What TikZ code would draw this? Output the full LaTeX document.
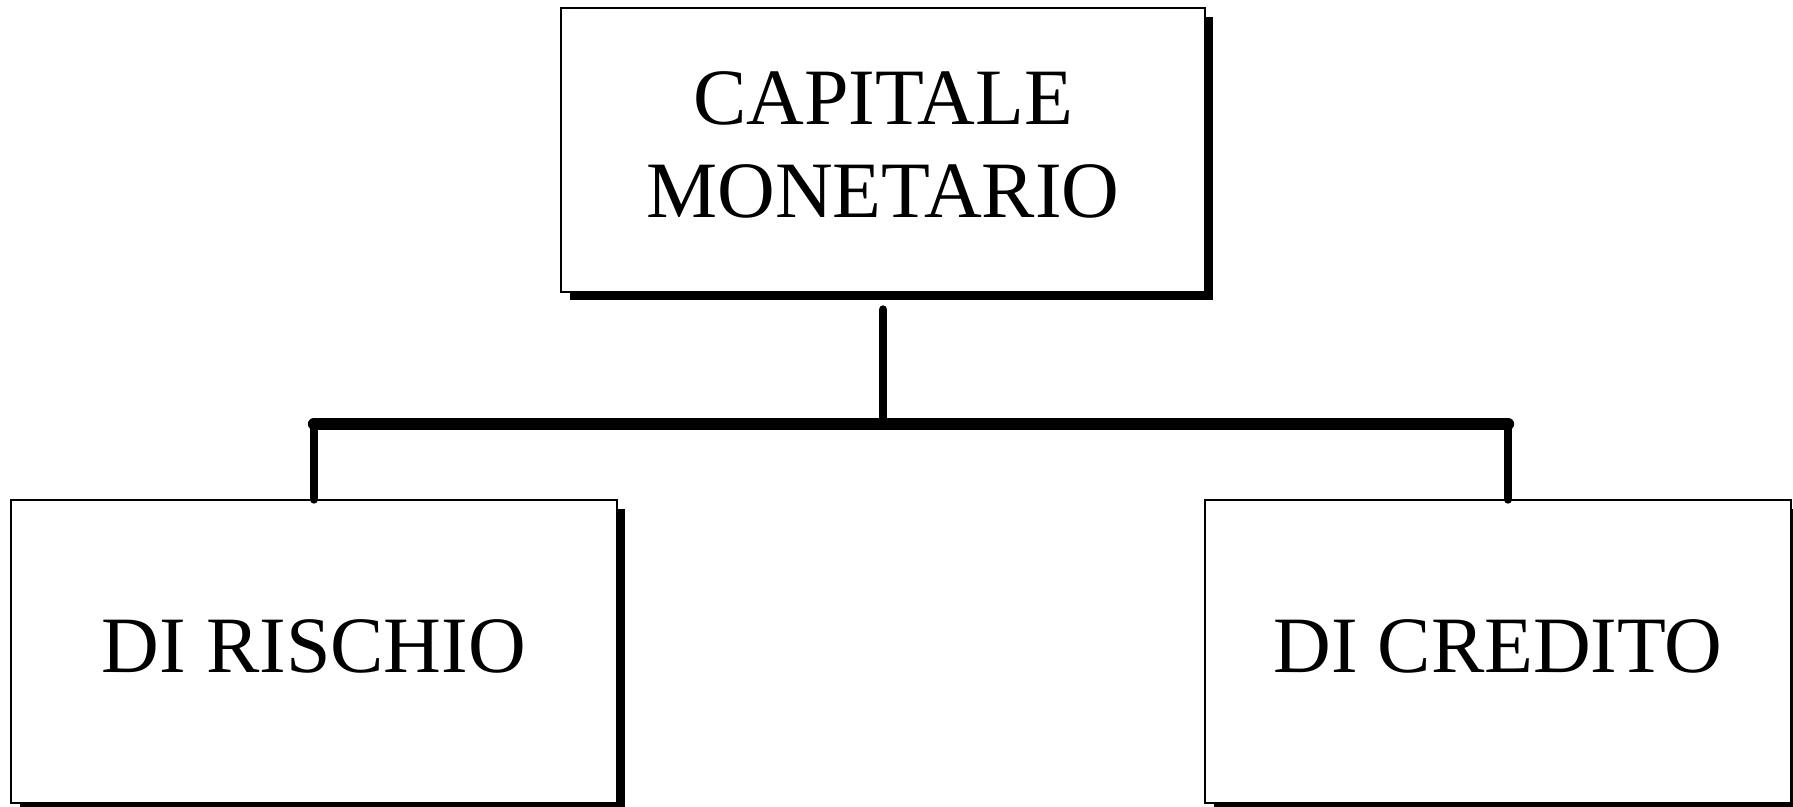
\documentclass[tikz,border=0pt]{standalone}
\usepackage{fontspec}
\setmainfont{Liberation Serif}
\usetikzlibrary{calc,shadows}
\tikzset{
  boxnode/.style={draw, line width=0.8pt, fill=white, inner sep=0pt,
    font=\fontsize{45.5}{53}\selectfont, align=center,
    drop shadow={opacity=1, fill=black, shadow xshift=0.17cm, shadow yshift=-0.17cm}},
  linkline/.style={line width=5pt, line cap=round},
  barline/.style={line width=7pt, line cap=round}
}
\newcommand{\lifttext}[1]{\raisebox{6pt}{#1}}
\begin{document}
\begin{tikzpicture}[x=0.02cm,y=-0.02cm]
\useasboundingbox (0,0) rectangle (1793,807);
\node [boxnode, minimum width=12.88cm, minimum height=5.68cm] (cap) at (883,150) {\lifttext{CAPITALE}\\\lifttext{MONETARIO}};
\node [boxnode, minimum width=12.12cm, minimum height=6.06cm] (rischio) at (314,651.5) {\lifttext{DI RISCHIO}};
\node [boxnode, minimum width=11.72cm, minimum height=6.06cm] (credito) at (1498,651.5) {\lifttext{DI CREDITO}};
\coordinate (top) at ($(cap.south)+(0,17)$);
\coordinate (bl) at (rischio.north |- 0,424);
\coordinate (br) at ($(credito.north)+(10,0)$);
\coordinate (brt) at (br |- 0,424);
\draw [linkline] (top) -- (top |- bl);
\draw [barline] (bl) -- (brt);
\draw [linkline] (bl) -- (rischio.north);
\draw [linkline] (brt) -- (br);
\end{tikzpicture}
\end{document}
